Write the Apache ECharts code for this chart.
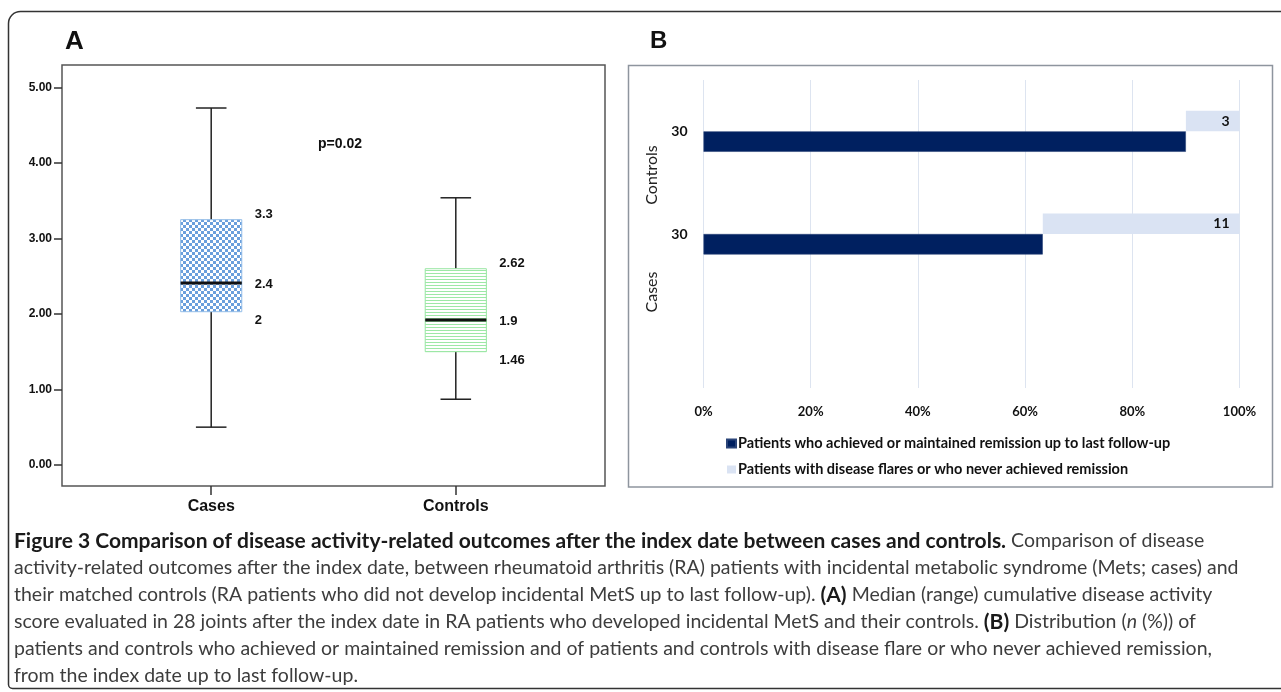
<!DOCTYPE html>
<html>
<head>
<meta charset="utf-8">
<script src="https://cdn.jsdelivr.net/npm/echarts@6/dist/echarts.min.js"></script>
<style>
  html, body { margin: 0; padding: 0; background: #fff; }
  #chart { width: 1281px; height: 692px; }
</style>
</head>
<body>
<div id="chart"></div>
<script>
// ---- panel A : box plot ----
const groups = ['Cases', 'Controls']
const boxMin    = [0.5, 0.87]
const boxQ1     = [2.03, 1.5]
const boxMedian = [2.41, 1.92]
const boxQ3     = [3.25, 2.6]
const boxMax    = [4.73, 3.54]
const q3Labels     = ['3.3', '2.62']
const medianLabels = ['2.4', '1.9']
const q1Labels     = ['2', '1.46']
const yTicks = [0, 1, 2, 3, 4, 5]

// ---- panel B : bars ----
const barCategories = ['', 'Cases', 'Controls']
const nLabels       = ['', '30', '30']
const remissionPct  = [null, 63.3, 90.0]
const flarePct      = [null, 36.7, 10.0]
const flareLabels   = ['', '11', '3']
const remissionName = 'Patients who achieved or maintained remission up to last follow-up'
const flareName     = 'Patients with disease flares or who never achieved remission'

const ARIAL = '"Liberation Sans", Arial, sans-serif'
const CAL = 'Lato, "Open Sans", sans-serif'

const checker = (() => {
    const c = document.createElement('canvas'); c.width = 6; c.height = 6
    const g = c.getContext('2d')
    g.fillStyle = '#ffffff'; g.fillRect(0, 0, 6, 6)
    g.fillStyle = '#6a9fdc'; g.fillRect(0, 0, 3, 3); g.fillRect(3, 3, 3, 3)
    return c
})()
const stripes = (() => {
    const c = document.createElement('canvas'); c.width = 6; c.height = 3
    const g = c.getContext('2d')
    g.fillStyle = '#ffffff'; g.fillRect(0, 0, 6, 3)
    g.fillStyle = '#9de8a6'; g.fillRect(0, 0, 6, 1)
    return c
})()
const boxFill   = [{ image: checker, repeat: 'repeat' }, { image: stripes, repeat: 'repeat' }]
const boxBorder = ['#93bde8', '#98e6a2']

const boxData = groups.map((g, i) => [i + 1, boxMin[i], boxQ1[i], boxMedian[i], boxQ3[i], boxMax[i]])

const renderBox = (params, api) => {
    const i = params.dataIndex
    const x = api.value(0)
    const tl = api.coord([x - 0.125, api.value(4)])
    const br = api.coord([x + 0.125, api.value(2)])
    const top = api.coord([x, api.value(5)])
    const bot = api.coord([x, api.value(1)])
    const med = api.coord([x, api.value(3)])
    const cap = api.size([0.0625, 0])[0]
    const line = (x1, y1, x2, y2, w, c) => ({
        type: 'line', shape: { x1, y1, x2, y2 }, style: { stroke: c || '#222', lineWidth: w || 1.5 }
    })
    const label = (t, y) => ({
        type: 'text', style: { text: t, x: br[0] + 13, y, fill: '#111', font: 'bold 13px ' + ARIAL, verticalAlign: 'middle' }
    })
    return {
        type: 'group',
        children: [
            line(top[0], top[1], top[0], tl[1]),
            line(bot[0], br[1], bot[0], bot[1]),
            line(top[0] - cap, top[1], top[0] + cap, top[1]),
            line(bot[0] - cap, bot[1], bot[0] + cap, bot[1]),
            {
                type: 'rect',
                shape: { x: tl[0], y: tl[1], width: br[0] - tl[0], height: br[1] - tl[1] },
                style: { fill: boxFill[i], stroke: boxBorder[i], lineWidth: 1 }
            },
            line(tl[0], med[1], br[0], med[1], 3, '#111'),
            label(q3Labels[i], tl[1] - 5),
            label(medianLabels[i], med[1] + 1),
            label(q1Labels[i], br[1] + 9)
        ]
    }
}

const captionLines = [
    '{b|Figure 3 Comparison of disease activity-related outcomes after the index date between cases and controls.} Comparison of disease',
    'activity-related outcomes after the index date, between rheumatoid arthritis (RA) patients with incidental metabolic syndrome (Mets; cases) and',
    'their matched controls (RA patients who did not develop incidental MetS up to last follow-up). {b|(A)} Median (range) cumulative disease activity',
    'score evaluated in 28 joints after the index date in RA patients who developed incidental MetS and their controls. {b|(B)} Distribution ({i|n} (%)) of',
    'patients and controls who achieved or maintained remission and of patients and controls with disease flare or who never achieved remission,',
    'from the index date up to last follow-up.'
]

const mychart = echarts.init(document.getElementById('chart'))

mychart.setOption({
    animation: false,
    grid: [
        { left: 62, top: 65, width: 543, height: 421, show: true, borderColor: '#555', borderWidth: 1.5 },
        { left: 703.5, top: 80, width: 536, height: 308 }
    ],
    xAxis: [
        {
            gridIndex: 0, type: 'value', min: 0.39, max: 2.61, position: 'bottom',
            axisLine: { show: false, onZero: false },
            splitLine: { show: false },
            axisTick: { show: true, customValues: [1, 2], length: 9, lineStyle: { color: '#333', width: 1.5 } },
            axisLabel: {
                customValues: [1, 2], margin: 13,
                formatter: v => groups[Math.round(v) - 1],
                color: '#111', fontWeight: 'bold', fontSize: 16, fontFamily: ARIAL
            }
        },
        {
            gridIndex: 1, type: 'value', min: 0, max: 100, interval: 20,
            axisLine: { show: false }, axisTick: { show: false },
            splitLine: { lineStyle: { color: '#dde4f0', width: 1 } },
            axisLabel: { formatter: '{value}%', margin: 17, color: '#111', fontWeight: 'bold', fontSize: 13, fontFamily: CAL }
        }
    ],
    yAxis: [
        {
            gridIndex: 0, type: 'value', min: -0.28, max: 5.3,
            axisLine: { show: false, onZero: false },
            splitLine: { show: false },
            axisTick: { show: true, customValues: yTicks, length: 8, lineStyle: { color: '#333', width: 1.5 } },
            axisLabel: {
                customValues: yTicks, margin: 10,
                formatter: v => v.toFixed(2),
                color: '#111', fontWeight: 'bold', fontSize: 12, fontFamily: ARIAL
            }
        },
        {
            gridIndex: 1, type: 'category', data: barCategories,
            axisLine: { show: false }, axisTick: { show: false },
            axisLabel: {
                margin: 16, formatter: (v, idx) => nLabels[idx],
                color: '#111', fontWeight: 'bold', fontSize: 14, fontFamily: CAL
            }
        }
    ],
    legend: {
        data: [remissionName, flareName],
        orient: 'vertical', left: 721, top: 431,
        itemWidth: 9, itemHeight: 8, itemGap: 11, icon: 'rect',
        selectedMode: false,
        textStyle: { color: '#111', fontWeight: 'bold', fontSize: 14.5, fontFamily: CAL, padding: [0, 0, 0, -3] }
    },
    series: [
        {
            type: 'custom', xAxisIndex: 0, yAxisIndex: 0,
            data: boxData, renderItem: renderBox, silent: true
        },
        {
            name: 'base', type: 'bar', xAxisIndex: 1, yAxisIndex: 1, stack: 'flare',
            data: remissionPct, barWidth: 20.5, barGap: '0%', silent: true,
            itemStyle: { color: 'rgba(0,0,0,0)' }
        },
        {
            name: flareName, type: 'bar', xAxisIndex: 1, yAxisIndex: 1, stack: 'flare',
            data: flarePct, barWidth: 20.5, barGap: '0%',
            itemStyle: { color: '#dae3f3' },
            label: {
                show: true, position: 'insideRight', distance: 10,
                formatter: p => flareLabels[p.dataIndex],
                color: '#111', fontWeight: 'bold', fontSize: 14, fontFamily: CAL
            }
        },
        {
            name: remissionName, type: 'bar', xAxisIndex: 1, yAxisIndex: 1, stack: 'remission',
            data: remissionPct, barWidth: 20.5, barGap: '0%',
            itemStyle: { color: '#002060', borderColor: '#2a4478', borderWidth: 0.6 }
        }
    ],
    graphic: [
        {
            type: 'rect', silent: true, z: -1,
            shape: { x: 8.5, y: 11.5, width: 1300, height: 677, r: [12, 0, 0, 4] },
            style: { fill: 'none', stroke: '#333', lineWidth: 1.5 }
        },
        {
            type: 'rect', silent: true,
            shape: { x: 628.5, y: 65.5, width: 644, height: 421.5 },
            style: { fill: 'none', stroke: '#8e959e', lineWidth: 1.5 }
        },
        { type: 'text', left: 65, top: 29, style: { text: 'A', font: 'bold 26px ' + ARIAL, fill: '#111' } },
        { type: 'text', left: 650, top: 29, style: { text: 'B', font: 'bold 24px ' + ARIAL, fill: '#111' } },
        { type: 'text', left: 318, top: 137, style: { text: 'p=0.02', font: 'bold 14px ' + ARIAL, fill: '#111' } },
        {
            type: 'text', x: 652, y: 175, rotation: Math.PI / 2,
            style: { text: 'Controls', font: '16px ' + CAL, fill: '#222', align: 'center', verticalAlign: 'middle' }
        },
        {
            type: 'text', x: 652, y: 292, rotation: Math.PI / 2,
            style: { text: 'Cases', font: '16px ' + CAL, fill: '#222', align: 'center', verticalAlign: 'middle' }
        },
        ...captionLines.map((t, k) => ({
            type: 'text', x: 14, y: 541 + k * 27,
            style: {
                text: t, fill: '#3d3d3d', font: '19.5px ' + CAL, verticalAlign: 'middle',
                rich: {
                    b: { fontWeight: 'bold', fill: '#1a1a1a', fontSize: 21, fontFamily: CAL },
                    i: { fontStyle: 'italic', fill: '#3d3d3d', fontSize: 19.5, fontFamily: CAL }
                }
            }
        }))
    ]
})
</script>
</body>
</html>
